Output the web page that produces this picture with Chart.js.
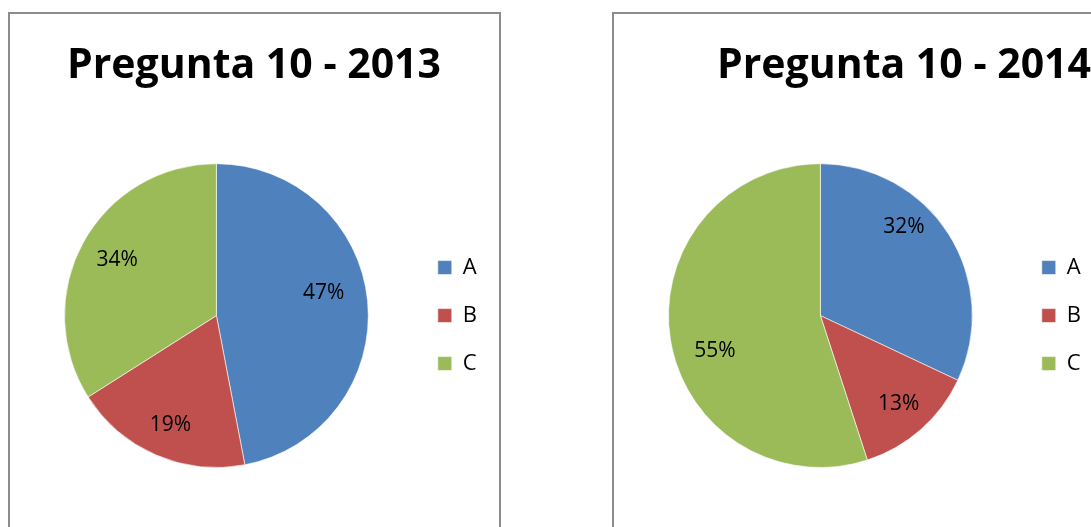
<!DOCTYPE html>
<html>
<head>
<meta charset="utf-8">
<script src="https://cdn.jsdelivr.net/npm/chart.js@4/dist/chart.umd.min.js"></script>
<style>
  body { margin: 0; background: #fff; overflow: hidden; }
  .box { position: absolute; top: 12px; border: 2px solid #8c8c8c; background: #fff; }
  canvas { display: block; }
</style>
</head>
<body>
<div class="box" style="left:8px"><canvas id="chart2013" width="489" height="540"></canvas></div>
<div class="box" style="left:612px"><canvas id="chart2014" width="489" height="540"></canvas></div>
<script>
// data
const categories = ["A", "B", "C"];
const values2013 = [47, 19, 34];
const values2014 = [32, 13, 55];
const titles = ["Pregunta 10 - 2013", "Pregunta 10 - 2014"];
const colors = ["#4F81BD", "#C0504D", "#9BBB59"];

// percent labels inside the slices (Excel "best fit" look)
const pieLabels = {
  id: "pieLabels",
  afterDatasetsDraw(chart, args, opts) {
    const ctx = chart.ctx;
    const meta = chart.getDatasetMeta(0);
    const data = chart.data.datasets[0].data;
    const total = data.reduce((a, b) => a + b, 0);
    ctx.save();
    ctx.font = "21px 'Open Sans'";
    ctx.fillStyle = "#000";
    ctx.textAlign = "center";
    ctx.textBaseline = "middle";
    meta.data.forEach((arc, i) => {
      const p = arc.getProps(["x", "y", "startAngle", "endAngle", "outerRadius"], true);
      const mid = (p.startAngle + p.endAngle) / 2;
      const shift = (opts.shift && opts.shift[i]) || [0, 0];
      const x = p.x + Math.cos(mid) * p.outerRadius * 0.73 + shift[0];
      const y = p.y + Math.sin(mid) * p.outerRadius * 0.73 + shift[1];
      ctx.fillText(Math.round(data[i] / total * 100) + "%", x, y);
    });
    ctx.restore();
  }
};

function makePie(id, title, values, titleAlign, shift) {
  return new Chart(document.getElementById(id), {
    type: "pie",
    data: {
      labels: categories,
      datasets: [{
        data: values,
        backgroundColor: colors,
        borderColor: "rgba(255,255,255,0.6)",
        borderWidth: 1,
        hoverOffset: 0
      }]
    },
    options: {
      responsive: false,
      animation: false,
      events: [],
      layout: { padding: { left: 11, right: 12, top: 0, bottom: 86 } },
      plugins: {
        title: {
          display: true,
          text: title,
          align: titleAlign,
          color: "#000",
          font: { family: "'Open Sans'", size: 41, weight: "bold" },
          padding: { top: 28, bottom: 72 }
        },
        legend: {
          position: "right",
          fullSize: false,
          labels: {
            boxWidth: 14,
            boxHeight: 14,
            padding: 26,
            color: "#000",
            font: { family: "'Open Sans'", size: 22 }
          }
        },
        tooltip: { enabled: false },
        pieLabels: { shift: shift }
      }
    },
    plugins: [pieLabels]
  });
}

makePie("chart2013", titles[0], values2013, "center", [[-3, -12], [-2, 8], [-2, -2]]);
makePie("chart2014", titles[1], values2014, "end", [[-10, -29], [5, 5], [4, 18]]);
</script>
</body>
</html>
